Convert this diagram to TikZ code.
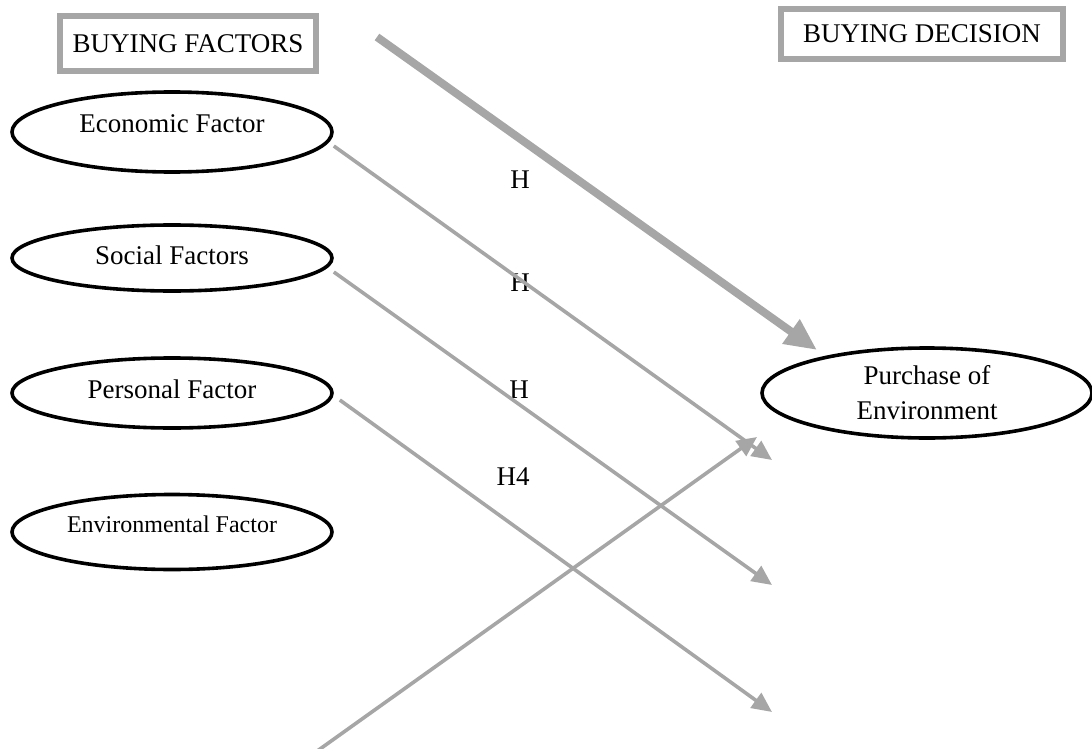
\documentclass[tikz,border=0pt]{standalone}
\usepackage{fontspec}
\setmainfont{Liberation Serif}
\usetikzlibrary{shapes.geometric,arrows.meta}
\definecolor{linegray}{RGB}{166,166,166}
\tikzset{
    factor/.style={ellipse, draw=black, line width=1.8pt, minimum width=160pt, inner sep=0pt},
    headbox/.style={draw=linegray, line width=3pt, inner sep=0pt},
    link/.style={linegray, line width=1.8pt, -{Triangle[length=10pt,width=9pt]}},
}
\begin{document}
\begin{tikzpicture}[x=0.5pt, y=-0.5pt, font=\fontsize{13.5}{17.5}\selectfont]
    \useasboundingbox (0,0) rectangle (1092,749);

    % headers
    \node[headbox, minimum width=128pt, minimum height=27.5pt] (bf) at (188,44) {BUYING FACTORS};
    \node[headbox, minimum width=141pt, minimum height=25pt] (bd) at (922,34) {BUYING DECISION};

    % buying factors
    \foreach \name/\y/\h/\up/\txt in {eco/132/40pt/4pt/Economic Factor, soc/258/33pt/1.5pt/Social Factors, per/393/35pt/2pt/Personal Factor} {
        \node[factor, minimum height=\h, label={[yshift=\up]center:\txt}] (\name) at (172,\y) {};
    }
    \node[factor, minimum height=37.5pt, label={[font=\fontsize{12}{14}\selectfont, yshift=4pt]center:Environmental Factor}] (env) at (172,532) {};

    % decision
    \node[factor, minimum width=165pt, minimum height=45pt, align=center] (pur) at (927,393) {Purchase of\\Environment};

    % hypotheses
    \node (h1) at (520,180) {H};
    \node (h2) at (520,283) {H};
    \node (h3) at (519,390) {H};
    \node (h4) at (513,477) {H4};

    % arrow ends
    \coordinate (top) at (377,37);
    \coordinate (t0) at (817,350);
    \coordinate (t1) at (772,460);
    \coordinate (t2) at (772,585);
    \coordinate (t3) at (772,712);
    \coordinate (src) at (306,759);
    \coordinate (t4) at (757,437);

    \draw[link, line width=4pt, -{Triangle[length=16pt,width=14pt]}] (top) -- (t0);
    \draw[link] ([yshift=-7pt]eco.east) -- (t1);
    \draw[link] ([yshift=-7pt]soc.east) -- (t2);
    \draw[link] ([xshift=3pt,yshift=-3.5pt]per.east) -- (t3);
    \draw[link] (src) -- (t4);
\end{tikzpicture}
\end{document}
